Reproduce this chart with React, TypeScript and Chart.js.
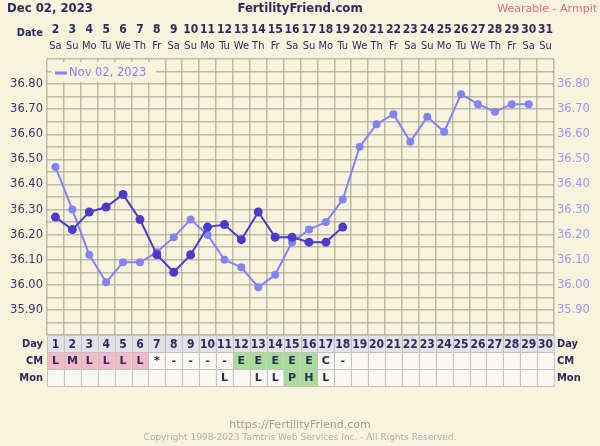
import React, { useEffect, useRef } from 'react';
import { Chart, registerables } from 'chart.js';

Chart.register(...registerables);

// ---- data ----
const cycleDays = ['1','2','3','4','5','6','7','8','9','10','11','12','13','14','15','16','17','18','19','20','21','22','23','24','25','26','27','28','29','30'];
const dateNumbers = ['2','3','4','5','6','7','8','9','10','11','12','13','14','15','16','17','18','19','20','21','22','23','24','25','26','27','28','29','30','31'];
const weekdays = ['Sa','Su','Mo','Tu','We','Th','Fr','Sa','Su','Mo','Tu','We','Th','Fr','Sa','Su','Mo','Tu','We','Th','Fr','Sa','Su','Mo','Tu','We','Th','Fr','Sa','Su'];
const currentTemps = [36.27, 36.22, 36.29, 36.31, 36.36, 36.26, 36.12, 36.05, 36.12, 36.23, 36.24, 36.18, 36.29, 36.19, 36.19, 36.17, 36.17, 36.23];
const overlayTemps = [36.47, 36.30, 36.12, 36.01, 36.09, 36.09, 36.13, 36.19, 36.26, 36.20, 36.10, 36.07, 35.99, 36.04, 36.17, 36.22, 36.25, 36.34, 36.55, 36.64, 36.68, 36.57, 36.67, 36.61, 36.76, 36.72, 36.69, 36.72, 36.72];
const cmValues = ['L','M','L','L','L','L','*','-','-','-','-','E','E','E','E','E','C','-','','','','','','','','','','','',''];
const monValues = ['','','','','','','','','','','L','','L','L','P','H','L','','','','','','','','','','','','',''];
const overlayLabel = 'Nov 02, 2023';
const chartDate = 'Dec 02, 2023';
const siteName = 'FertilityFriend.com';
const methodLabel = 'Wearable - Armpit';
const footerUrl = 'https://FertilityFriend.com';
const footerCopy = 'Copyright 1998-2023 Tamtris Web Services Inc. - All Rights Reserved.';
const yMin = 35.8;
const yMax = 36.9;

// ---- styles ----
const BG = '#f8f3dc';
const GRID = 'rgba(170,165,150,0.72)';
const DARK = '#4a3bcb';
const LIGHT = '#8383f5';
const NAVY = '#2e2b5c';
const FONT = '"DejaVu Sans", sans-serif';
const CFONT = '"DejaVu Sans Condensed", "DejaVu Sans", sans-serif';

const decor = {
  id: 'ffDecor',
  beforeDraw(chart: any) {
    const ctx = chart.ctx;
    ctx.save();
    ctx.fillStyle = BG;
    ctx.fillRect(0, 0, chart.width, chart.height);
    ctx.restore();
  },
  afterDatasetsDraw(chart: any) {
    const ctx = chart.ctx;
    const area = chart.chartArea;
    const xs = chart.scales.x;
    const colW = (area.right - area.left) / cycleDays.length;
    ctx.save();
    ctx.textBaseline = 'middle';

    // header
    ctx.fillStyle = NAVY;
    ctx.font = `bold 13px ${CFONT}`;
    ctx.textAlign = 'left';
    ctx.fillText(chartDate, 7, 9);
    ctx.textAlign = 'center';
    ctx.fillText(siteName, 300, 9);
    ctx.font = `11px ${FONT}`;
    ctx.fillStyle = '#e0687a';
    ctx.textAlign = 'right';
    ctx.fillText(methodLabel, 597, 9);

    ctx.fillStyle = NAVY;
    ctx.font = `bold 11px ${CFONT}`;
    ctx.textAlign = 'right';
    ctx.fillText('Date', 43, 33);
    ctx.textAlign = 'center';
    dateNumbers.forEach((d, i) => {
      ctx.font = `bold 12px ${CFONT}`;
      ctx.fillText(d, xs.getPixelForValue(i), 30);
      ctx.font = `11px ${CFONT}`;
      ctx.fillText(weekdays[i], xs.getPixelForValue(i), 46);
    });

    // legend
    ctx.fillStyle = BG;
    ctx.fillRect(52, 62, 104, 20);
    ctx.strokeStyle = LIGHT;
    ctx.lineWidth = 3;
    ctx.beginPath();
    ctx.moveTo(55, 73);
    ctx.lineTo(67, 73);
    ctx.stroke();
    ctx.fillStyle = LIGHT;
    ctx.font = `11.5px ${FONT}`;
    ctx.textAlign = 'left';
    ctx.fillText(overlayLabel, 69, 73);

    // table
    const top = area.bottom;
    const rowH = 17;
    const rows = [
      { name: 'Day', vals: cycleDays },
      { name: 'CM', vals: cmValues },
      { name: 'Mon', vals: monValues },
    ];
    rows.forEach((row, r) => {
      const y0 = top + r * rowH;
      row.vals.forEach((v, i) => {
        const cx = xs.getPixelForValue(i);
        const x0 = cx - colW / 2;
        let fill = '#f9f8f2';
        if (r === 0) fill = '#e3e2e8';
        else if (v === 'L' && r === 1) fill = '#f2b9ca';
        else if (v === 'M') fill = '#f2b9ca';
        else if (v === 'E' || v === 'P' || v === 'H') fill = '#a6de96';
        ctx.fillStyle = fill;
        ctx.fillRect(x0, y0, colW, rowH);
        ctx.strokeStyle = '#c4c2bc';
        ctx.lineWidth = 1;
        ctx.strokeRect(Math.round(x0) + 0.5, Math.round(y0) + 0.5, colW, rowH);
        if (v) {
          ctx.fillStyle = NAVY;
          ctx.font = r === 0 ? `bold 12px ${CFONT}` : `bold 11px ${FONT}`;
          ctx.textAlign = 'center';
          ctx.fillText(v, cx, y0 + rowH / 2 + 1);
        }
      });
      ctx.fillStyle = NAVY;
      ctx.font = `bold 11px ${CFONT}`;
      ctx.textAlign = 'right';
      ctx.fillText(row.name, 43, y0 + rowH / 2 + 1);
      ctx.textAlign = 'left';
      ctx.fillText(row.name, 557, y0 + rowH / 2 + 1);
    });

    // footer
    ctx.textAlign = 'center';
    ctx.fillStyle = '#9c9c9c';
    ctx.font = `11px ${FONT}`;
    ctx.fillText(footerUrl, 300, 425);
    ctx.fillStyle = '#b0b0ae';
    ctx.font = `9px ${FONT}`;
    ctx.fillText(footerCopy, 300, 438);
    ctx.restore();
  },
};

const tickLabel = (value: any) => {
  const v = Math.round(Number(value) * 100);
  if (v % 10 !== 0 || v === 3580 || v === 3690) return '';
  return (v / 100).toFixed(2);
};

export default function App() {
  const ref = useRef<HTMLCanvasElement>(null);
  useEffect(() => {
    document.body.style.margin = '0';
    const canvas = ref.current!;
    const chart = new Chart(canvas, {
      type: 'line',
      data: {
        labels: cycleDays,
        datasets: [
          {
            label: chartDate,
            data: currentTemps,
            borderColor: DARK,
            backgroundColor: DARK,
            borderWidth: 2,
            pointRadius: 4.5,
            pointBorderWidth: 0,
            order: 0,
            yAxisID: 'y',
          },
          {
            label: overlayLabel,
            data: overlayTemps,
            borderColor: LIGHT,
            backgroundColor: LIGHT,
            borderWidth: 2,
            pointRadius: 4,
            pointBorderWidth: 0,
            order: 1,
            yAxisID: 'y',
          },
        ],
      },
      options: {
        responsive: false,
        animation: false,
        events: [],
        layout: { padding: { top: 59, bottom: 111, left: 0, right: 0 } },
        plugins: { legend: { display: false }, tooltip: { enabled: false } },
        scales: {
          x: {
            type: 'category',
            offset: true,
            ticks: { display: false },
            grid: { offset: true, color: GRID, lineWidth: 1.5, drawTicks: false },
            border: { display: false },
            afterFit: (s: any) => { s.height = 0; },
          },
          y: {
            position: 'left',
            min: yMin,
            max: yMax,
            ticks: {
              stepSize: 0.05,
              callback: tickLabel,
              color: '#3a3766',
              font: { family: FONT, size: 11.5 },
              padding: 4,
              autoSkip: false,
            },
            grid: { color: GRID, lineWidth: 1.5, drawTicks: false },
            border: { display: false },
            afterFit: (s: any) => { s.width = 47; },
          },
          y2: {
            position: 'right',
            min: yMin,
            max: yMax,
            ticks: {
              stepSize: 0.05,
              callback: tickLabel,
              color: '#9a9af0',
              font: { family: FONT, size: 11.5 },
              padding: 3,
              autoSkip: false,
            },
            grid: { display: false, drawTicks: false },
            border: { display: false },
            afterFit: (s: any) => { s.width = 46; },
          },
        },
      },
      plugins: [decor],
    } as any);
    return () => chart.destroy();
  }, []);
  return (
    <div style={{ width: 600, height: 446 }}>
      <canvas ref={ref} width={600} height={446} style={{ display: 'block' }} />
    </div>
  );
}
